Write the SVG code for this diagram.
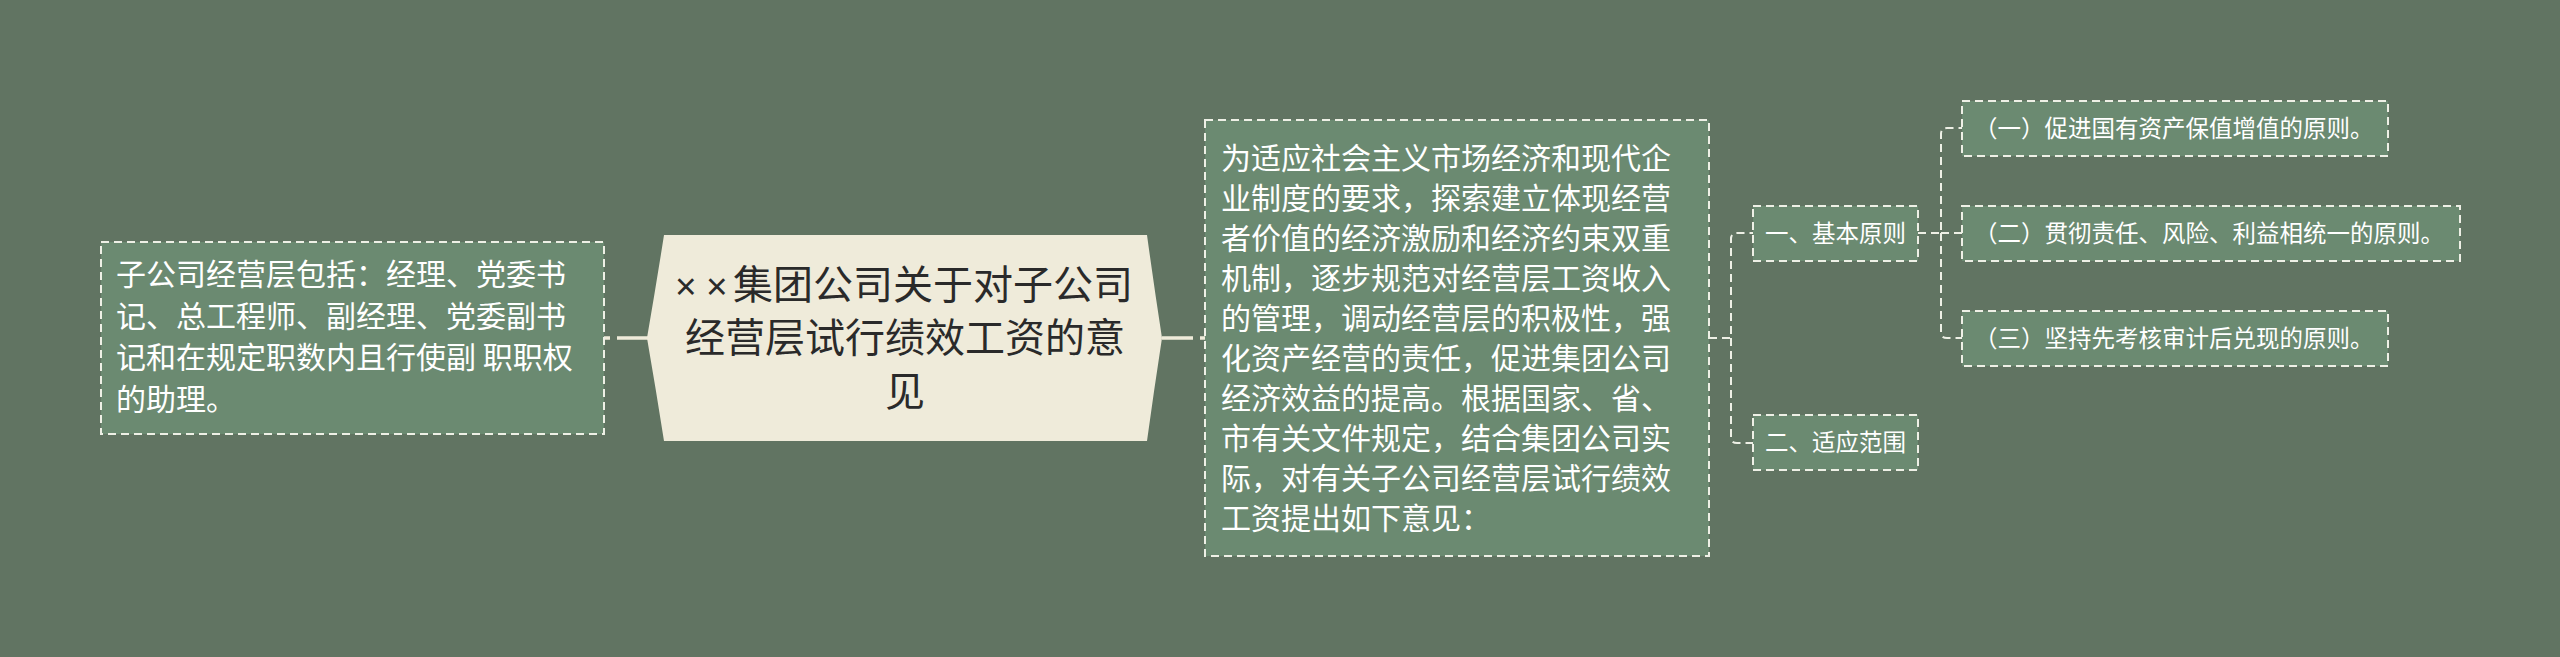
<svg xmlns="http://www.w3.org/2000/svg" width="2560" height="657" viewBox="0 0 2560 657">
<style>
.bg{fill:#617462}
.box{fill:#6b8a71;stroke:#eef0e6;stroke-width:2;stroke-dasharray:8 5}
.root{fill:#efebda}
.t{font-family:"Noto Sans CJK SC","Noto Sans",sans-serif;fill:#ffffff}
.t30{font-size:30px}
.t23{font-size:23.5px}
.rt{font-family:"Noto Sans CJK SC","Noto Sans",sans-serif;font-size:40px;fill:#2a2a2a;text-anchor:middle}
.x{font-family:"Liberation Sans",sans-serif;font-size:37px}
.cm{fill:none;stroke:#efebda;stroke-width:3.5;stroke-dasharray:31 7 6}
.cd{fill:none;stroke:#eef0e6;stroke-width:2;stroke-dasharray:8 5}
</style>
<rect class="bg" x="0" y="0" width="2560" height="657"/>
<g id="connectors">
<path class="cm" d="M648 338 H604"/>
<path class="cm" d="M1162 338 H1205"/>
<path class="cd" d="M1709 338 H1731 V239 Q1731 233 1737 233 H1753"/>
<path class="cd" d="M1731 338 V437 Q1731 443 1737 443 H1753"/>
<path class="cd" d="M1918 233 H1941 V134 Q1941 128 1947 128 H1962"/>
<path class="cd" d="M1941 233 H1962"/>
<path class="cd" d="M1941 233 V332 Q1941 338 1947 338 H1962"/>
</g>
<g id="root">
<path class="root" d="M664 235 L1147 235 Q1154 286 1162 338 Q1154 390 1147 441 L664 441 Q656 390 647 338 Q656 286 664 235 Z"/>
<text class="rt" style="text-anchor:start" y="299"><tspan class="x" x="675">×</tspan><tspan class="x" x="706">×</tspan><tspan x="733">集团公司关于对子公司</tspan></text>
<text class="rt" x="905" y="352">经营层试行绩效工资的意</text>
<text class="rt" x="905" y="406">见</text>
</g>
<g id="left">
<rect class="box" x="101" y="242" width="503" height="192"/>
<text class="t t30" x="116" y="285">子公司经营层包括：经理、党委书</text>
<text class="t t30" x="116" y="327">记、总工程师、副经理、党委副书</text>
<text class="t t30" x="116" y="368">记和在规定职数内且行使副 职职权</text>
<text class="t t30" x="116" y="410">的助理。</text>
</g>
<g id="main">
<rect class="box" x="1205" y="120" width="504" height="436"/>
<text class="t t30" x="1221" y="169">为适应社会主义市场经济和现代企</text>
<text class="t t30" x="1221" y="209">业制度的要求，探索建立体现经营</text>
<text class="t t30" x="1221" y="249">者价值的经济激励和经济约束双重</text>
<text class="t t30" x="1221" y="289">机制，逐步规范对经营层工资收入</text>
<text class="t t30" x="1221" y="329">的管理，调动经营层的积极性，强</text>
<text class="t t30" x="1221" y="369">化资产经营的责任，促进集团公司</text>
<text class="t t30" x="1221" y="409">经济效益的提高。根据国家、省、</text>
<text class="t t30" x="1221" y="449">市有关文件规定，结合集团公司实</text>
<text class="t t30" x="1221" y="489">际，对有关子公司经营层试行绩效</text>
<text class="t t30" x="1221" y="529">工资提出如下意见：</text>
</g>
<g id="n1">
<rect class="box" x="1753" y="206" width="165" height="55"/>
<text class="t t23" x="1765" y="242">一、基本原则</text>
</g>
<g id="n2">
<rect class="box" x="1753" y="415" width="165" height="55"/>
<text class="t t23" x="1765" y="451">二、适应范围</text>
</g>
<g id="n11">
<rect class="box" x="1962" y="101" width="426" height="55"/>
<text class="t t23" x="1974" y="137">（一）促进国有资产保值增值的原则。</text>
</g>
<g id="n12">
<rect class="box" x="1962" y="206" width="498" height="55"/>
<text class="t t23" x="1974" y="242">（二）贯彻责任、风险、利益相统一的原则。</text>
</g>
<g id="n13">
<rect class="box" x="1962" y="311" width="426" height="55"/>
<text class="t t23" x="1974" y="347">（三）坚持先考核审计后兑现的原则。</text>
</g>
</svg>
